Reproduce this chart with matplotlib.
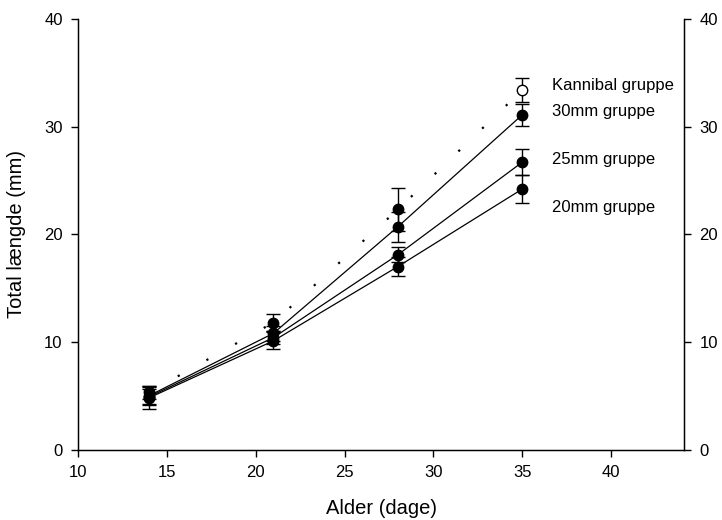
import matplotlib
matplotlib.use("Agg")
import matplotlib.pyplot as plt

plt.rcParams['font.family'] = ['Liberation Sans', 'DejaVu Sans']

days = [14, 21, 28, 35]
kannibal = [5.3, 11.8, 22.3, 33.4]
kannibal_sd = [0.6, 0.8, 2.0, 1.1]
g30 = [5.0, 10.8, 20.7, 31.1]
g30_sd = [0.9, 0.7, 1.4, 1.0]
g25 = [4.9, 10.4, 18.1, 26.7]
g25_sd = [0.7, 0.6, 0.7, 1.2]
g20 = [4.8, 10.1, 17.0, 24.2]
g20_sd = [1.0, 0.8, 0.9, 1.3]

labels = ["Kannibal gruppe", "30mm gruppe", "25mm gruppe", "20mm gruppe"]
label_y = [33.8, 31.4, 26.9, 22.5]
label_x = 36.7

xticks = [10, 15, 20, 25, 30, 35, 40]
yticks = [0, 10, 20, 30, 40]

fig = plt.figure(figsize=(7.22, 5.20), dpi=100)
ax = fig.add_axes([78/722, 70.5/520, (684-78)/722, (449.5-19)/520])

ebkw = dict(ecolor='black', elinewidth=1.0, capsize=4.7, capthick=1.0, fmt='none', zorder=2)

# solid-line groups
for y, sd in [(g30, g30_sd), (g25, g25_sd), (g20, g20_sd)]:
    ax.errorbar(days, y, yerr=sd, **ebkw)
    ax.plot(days, y, color='black', lw=0.9, zorder=3)
    ax.plot(days, y, 'o', color='black', ms=7.5, zorder=4)

# kannibal group: sparse dotted line
ax.errorbar(days, kannibal, yerr=kannibal_sd, **ebkw)
ax.plot(days, kannibal, color='black', lw=1.6, linestyle=(0, (1, 13.8)), zorder=3)
ax.plot(days[:-1], kannibal[:-1], 'o', color='black', ms=7.5, zorder=4)
ax.plot(days[-1:], kannibal[-1:], 'o', mfc='white', mec='black', mew=1.0, ms=7.5, zorder=5)

for lab, ly in zip(labels, label_y):
    ax.text(label_x, ly, lab, fontsize=12, va='center', ha='left')

ax.set_xlim(10, 44.1)
ax.set_ylim(0, 40)
ax.set_xticks(xticks)
ax.set_yticks(yticks)
ax.tick_params(direction='out', length=5, width=1, labelsize=12, pad=6)
ax.spines['top'].set_visible(False)
for s in ['left', 'bottom', 'right']:
    ax.spines[s].set_linewidth(1.0)

ax2 = ax.twinx()
ax2.set_ylim(0, 40)
ax2.set_yticks(yticks)
ax2.tick_params(direction='out', length=5, width=1, labelsize=12, pad=6)
ax2.spines['top'].set_visible(False)

ax.set_xlabel("Alder (dage)", fontsize=14.5, labelpad=14)
ax.set_ylabel("Total længde (mm)", fontsize=14.5, labelpad=13)

fig.savefig("out.png", dpi=100)
